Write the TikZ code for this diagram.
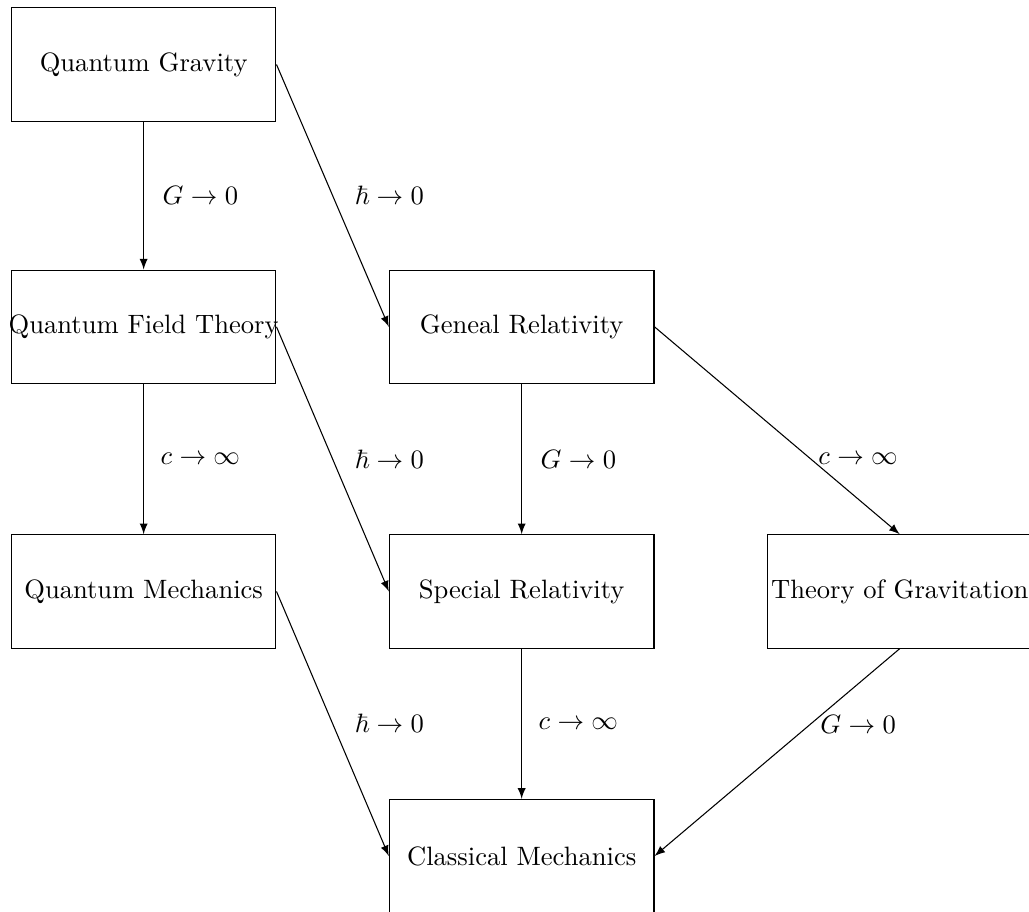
\documentclass[tikz,border=0pt]{standalone}
\usepackage{amsmath,amssymb}
\usetikzlibrary{arrows.meta, positioning}

\tikzset{
    theory/.style={draw, rectangle, minimum width=3.5cm, minimum height=1.5cm, inner xsep=-2pt}, % Hộp lý thuyết
    limit/.style={-latex}, % Mũi tên giới hạn
}

\begin{document}
\begin{tikzpicture}

            % Khung hình
            \useasboundingbox (-1.9,0.853) rectangle (11.71,-11.197);

            % Vẽ các hộp
            \node[theory] (qg) at (0,0) {Quantum Gravity};
            \node[theory] (qft) at (0,-3.47) {Quantum Field Theory};
            \node[theory] (gr) at (5,-3.47) {Geneal Relativity};
            \node[theory] (qm) at (0,-6.97) {Quantum Mechanics};
            \node[theory] (sr) at (5,-6.97) {Special Relativity};
            \node[theory] (tg) at (10,-6.97) {Theory of Gravitation};
            \node[theory] (cm) at (5,-10.47) {Classical Mechanics};

            % Vẽ các mũi tên
            \draw[limit] (qg.south) -- node[midway, xshift=0.75cm] {$G \to 0$} (qft.north);
            \draw[limit] (qg.east) -- node[midway, xshift=0.75cm] {$\hbar \to 0$} (gr.west);
            \draw[limit] (qft.south) -- node[midway, xshift=0.75cm] {$c \to \infty$} (qm.north);
            \draw[limit] (qft.east) -- node[midway, xshift=0.75cm] {$\hbar \to 0$} (sr.west);
            \draw[limit] (gr.south) -- node[midway, xshift=0.75cm] {$G \to 0$} (sr.north);
            \draw[limit] (gr.east) -- node[pos=0.636, xshift=0.63cm] {$c \to \infty$} (tg.north);
            \draw[limit] (qm.east) -- node[midway, xshift=0.75cm] {$\hbar \to 0$} (cm.west);
            \draw[limit] (sr.south) -- node[midway, xshift=0.75cm] {$c \to \infty$} (cm.north);
            \draw[limit] (tg.south) -- node[pos=0.364, xshift=0.63cm] {$G \to 0$} (cm.east);

\end{tikzpicture}
\end{document}
